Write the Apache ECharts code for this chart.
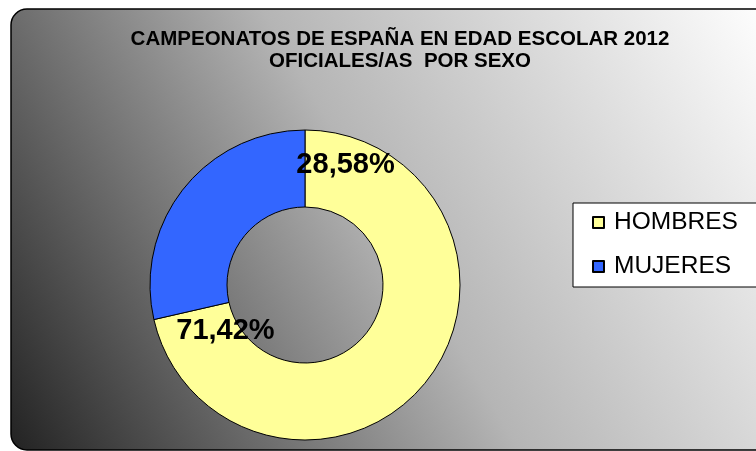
<!DOCTYPE html>
<html>
<head>
<meta charset="utf-8">
<script src="https://cdn.jsdelivr.net/npm/echarts@6/dist/echarts.min.js"></script>
<style>
  html, body { margin: 0; padding: 0; background: #fff; }
  #chart { width: 756px; height: 451px; }
</style>
</head>
<body>
<div id="chart"></div>
<script>
// datos del gráfico
const categories = ['HOMBRES', 'MUJERES'];
const values = [71.42, 28.58];
const colors = ['#FFFF99', '#3366FF'];
const titleLines = ['CAMPEONATOS DE ESPAÑA EN EDAD ESCOLAR 2012', 'OFICIALES/AS  POR SEXO'];

// desplazamiento de las etiquetas respecto a su posición por defecto (como en el original)
const labelShift = [[-173, -28], [134, -46]];

const chart = echarts.init(document.getElementById('chart'));

chart.setOption({
  animation: false,
  textStyle: { fontFamily: 'Liberation Sans, Arial, sans-serif' },
  graphic: [{
    type: 'rect',
    z: -10,
    shape: { x: 11, y: 9, width: 760, height: 441, r: 16 },
    style: {
      fill: new echarts.graphic.LinearGradient(0, 1, 1, 0, [
        { offset: 0, color: '#222222' },
        { offset: 0.5, color: '#b5b5b5' },
        { offset: 1, color: '#ffffff' }
      ]),
      stroke: '#000',
      lineWidth: 1.5
    }
  }],
  title: {
    text: titleLines.join('\n'),
    left: 395,
    top: 24,
    textAlign: 'center',
    textStyle: {
      fontSize: 20.5,
      fontWeight: 'bold',
      color: '#000',
      lineHeight: 21.5,
      fontFamily: 'Liberation Sans, Arial, sans-serif'
    }
  },
  legend: {
    orient: 'vertical',
    left: 573,
    top: 203,
    data: categories,
    icon: 'rect',
    itemWidth: 11,
    itemHeight: 11,
    itemGap: 19,
    padding: [7, 30, 8, 19],
    backgroundColor: '#fff',
    borderColor: '#000',
    borderWidth: 1,
    textStyle: { fontSize: 24.5, color: '#000', padding: [0, 0, 0, 5] }
  },
  series: [{
    type: 'pie',
    center: [305, 285],
    radius: [78, 155],
    startAngle: 90,
    clockwise: true,
    avoidLabelOverlap: false,
    itemStyle: { borderColor: '#000', borderWidth: 1 },
    label: {
      show: true,
      position: 'inside',
      formatter: p => p.value.toFixed(2).replace('.', ',') + '%',
      fontSize: 29,
      fontWeight: 'bold',
      color: '#000'
    },
    labelLine: { show: false },
    labelLayout: p => ({ dx: labelShift[p.dataIndex][0], dy: labelShift[p.dataIndex][1] }),
    data: categories.map((c, i) => ({
      name: c,
      value: values[i],
      itemStyle: { color: colors[i] }
    }))
  }]
});
</script>
</body>
</html>
